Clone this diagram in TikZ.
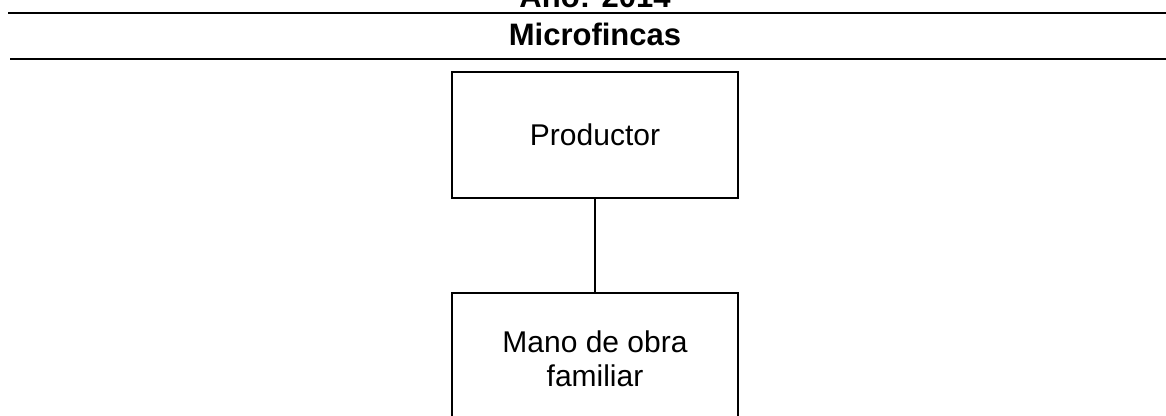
\documentclass[tikz,border=0pt]{standalone}
\usepackage{fontspec}
\setmainfont{Liberation Sans}
\tikzset{
  rule/.style={line width=1.8pt, black},
  boxnode/.style={draw, line width=1.4pt, minimum width=286pt, align=center, font=\fontsize{30}{34}\selectfont, inner sep=0pt},
  titletext/.style={font=\fontsize{31}{34}\selectfont\bfseries, inner sep=0pt}
}
\begin{document}
\begin{tikzpicture}[x=1pt,y=-1pt]
\useasboundingbox (0,0) rectangle (1166,415);
\clip (0,0) rectangle (1166,415);
\fill[white] (0,0) rectangle (1166,415);
\node[titletext, anchor=base] (year) at (595,7) {Año: 2014};
\coordinate (r1a) at (8,13);
\coordinate (r1b) at (1166,13);
\coordinate (r2a) at (10,59);
\coordinate (r2b) at (1166,59);
\draw[rule] (r1a) -- (r1b);
\node[titletext, anchor=base] (micro) at (595,45) {Microfincas};
\draw[rule] (r2a) -- (r2b);
\node[boxnode, minimum height=126pt] (prod) at (595,135) {Productor};
\node[boxnode, minimum height=132pt] (mano) at (595,359) {Mano de obra\\familiar};
\draw[line width=1.4pt] (prod.south) -- (mano.north);
\end{tikzpicture}
\end{document}
